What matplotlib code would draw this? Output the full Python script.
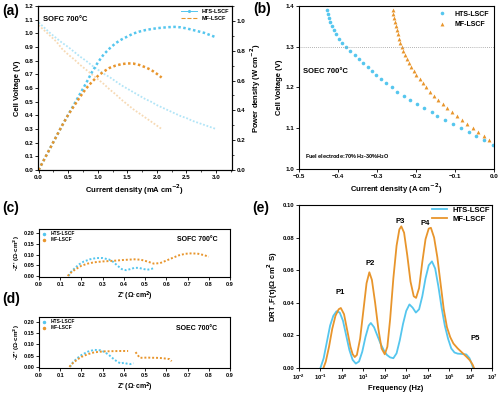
import numpy as np
import matplotlib
matplotlib.use("Agg")
import matplotlib.pyplot as plt
from matplotlib.lines import Line2D
from matplotlib.ticker import MultipleLocator, LogLocator, NullFormatter

plt.rcParams['font.family'] = ['Liberation Sans', 'DejaVu Sans']
plt.rcParams['font.weight'] = 'bold'
plt.rcParams['axes.labelweight'] = 'bold'
plt.rcParams['axes.linewidth'] = 0.8
plt.rcParams['mathtext.default'] = 'bf'

CYAN = '#55c6ee'
ORANGE = '#e8952c'

# ---- (a) SOFC I-V-P ----
hts_i = [0.0, 0.1, 0.2, 0.3, 0.4, 0.5, 0.6, 0.7, 0.8, 0.9, 1.0, 1.1, 1.2, 1.3, 1.4, 1.5,
         1.6, 1.7, 1.8, 1.9, 2.0, 2.1, 2.2, 2.3, 2.4, 2.5, 2.6, 2.7, 2.8, 2.9, 3.0]
hts_v = [1.08, 1.04, 1.00, 0.965, 0.93, 0.90, 0.865, 0.83, 0.80, 0.765, 0.735, 0.705, 0.68,
         0.65, 0.62, 0.595, 0.57, 0.545, 0.52, 0.50, 0.475, 0.455, 0.435, 0.415, 0.395,
         0.38, 0.36, 0.345, 0.33, 0.315, 0.30]
hts_p = [0.0, 0.075, 0.15, 0.225, 0.30, 0.37, 0.44, 0.51, 0.58, 0.655, 0.72, 0.775, 0.815,
         0.85, 0.875, 0.895, 0.915, 0.928, 0.938, 0.945, 0.951, 0.955, 0.958, 0.96, 0.957,
         0.95, 0.94, 0.93, 0.92, 0.905, 0.89]
mf_i = [0.0, 0.1, 0.2, 0.3, 0.4, 0.5, 0.6, 0.7, 0.8, 0.9, 1.0, 1.1, 1.2, 1.3, 1.4, 1.5,
        1.6, 1.7, 1.8, 1.9, 2.0, 2.08]
mf_v = [1.06, 1.02, 0.98, 0.94, 0.885, 0.845, 0.81, 0.77, 0.735, 0.70, 0.665, 0.63, 0.59,
        0.555, 0.515, 0.48, 0.445, 0.415, 0.385, 0.355, 0.325, 0.30]
mf_p = [0.0, 0.075, 0.15, 0.225, 0.30, 0.37, 0.43, 0.49, 0.545, 0.59, 0.63, 0.66, 0.685,
        0.70, 0.71, 0.715, 0.714, 0.705, 0.69, 0.672, 0.645, 0.62]

# ---- (b) SOEC I-V ----
hts_ec_v = [1.06, 1.07, 1.08, 1.09, 1.10, 1.11, 1.12, 1.13, 1.14, 1.15, 1.16, 1.17, 1.18,
            1.19, 1.20, 1.21, 1.22, 1.23, 1.24, 1.25, 1.26, 1.27, 1.28, 1.29, 1.30, 1.31,
            1.32, 1.33, 1.34, 1.35, 1.36, 1.37, 1.38, 1.39]
hts_ec_i = [-0.003, -0.026, -0.045, -0.065, -0.085, -0.105, -0.125, -0.145, -0.16, -0.18,
            -0.198, -0.215, -0.232, -0.248, -0.262, -0.276, -0.29, -0.302, -0.313, -0.324,
            -0.335, -0.345, -0.357, -0.368, -0.38, -0.39, -0.398, -0.405, -0.411, -0.416,
            -0.42, -0.423, -0.426, -0.429]
mf_ec_v = [1.07, 1.08, 1.09, 1.10, 1.11, 1.12, 1.13, 1.14, 1.15, 1.16, 1.17, 1.18, 1.19,
           1.20, 1.21, 1.22, 1.23, 1.24, 1.25, 1.26, 1.27, 1.28, 1.29, 1.30, 1.31, 1.32,
           1.33, 1.34, 1.35, 1.36, 1.37, 1.38, 1.39]
mf_ec_i = [-0.012, -0.025, -0.04, -0.055, -0.07, -0.083, -0.096, -0.108, -0.12, -0.132,
           -0.143, -0.154, -0.164, -0.174, -0.183, -0.191, -0.199, -0.206, -0.213, -0.219,
           -0.224, -0.229, -0.233, -0.237, -0.241, -0.244, -0.247, -0.25, -0.252, -0.254,
           -0.256, -0.258, -0.26]

# ---- (c) EIS SOFC ----
hts_c_re = [0.14, 0.15, 0.17, 0.19, 0.21, 0.24, 0.27, 0.30, 0.33, 0.35, 0.37, 0.39, 0.41,
            0.43, 0.45, 0.47, 0.49, 0.51, 0.53, 0.54]
hts_c_im = [0.0, 0.018, 0.038, 0.055, 0.067, 0.078, 0.084, 0.084, 0.077, 0.066, 0.048, 0.032,
            0.027, 0.032, 0.038, 0.038, 0.033, 0.029, 0.033, 0.037]
mf_c_re = [0.135, 0.15, 0.17, 0.20, 0.23, 0.26, 0.30, 0.35, 0.40, 0.45, 0.48, 0.51, 0.54,
           0.57, 0.60, 0.63, 0.66, 0.69, 0.72, 0.75, 0.78, 0.80]
mf_c_im = [0.0, 0.015, 0.03, 0.048, 0.058, 0.064, 0.068, 0.071, 0.075, 0.078, 0.076, 0.068,
           0.058, 0.060, 0.072, 0.085, 0.097, 0.104, 0.106, 0.104, 0.097, 0.09]

# ---- (d) EIS SOEC ----
hts_d_re = [0.146, 0.16, 0.18, 0.20, 0.23, 0.26, 0.29, 0.31, 0.33, 0.35, 0.37, 0.385, 0.40,
            0.415, 0.43, 0.445]
hts_d_im = [0.0, 0.02, 0.038, 0.052, 0.067, 0.075, 0.073, 0.065, 0.052, 0.036, 0.022, 0.015,
            0.018, 0.014, 0.012, 0.016]
mf_d_re1 = [0.143, 0.16, 0.18, 0.20, 0.23, 0.26, 0.30, 0.34, 0.38, 0.42]
mf_d_im1 = [0.0, 0.017, 0.032, 0.044, 0.056, 0.064, 0.068, 0.069, 0.07, 0.07]
mf_d_re2 = [0.455, 0.465, 0.475, 0.49, 0.51, 0.53, 0.55, 0.57, 0.585, 0.60, 0.615, 0.625]
mf_d_im2 = [0.065, 0.052, 0.04, 0.04, 0.041, 0.04, 0.04, 0.039, 0.038, 0.036, 0.034, 0.025]

# ---- (e) DRT (log10 of frequency) ----
hts_logf = [-1.0, -0.85, -0.7, -0.55, -0.4, -0.25, -0.1, 0.05, 0.2, 0.35, 0.5, 0.65, 0.8,
            0.95, 1.1, 1.25, 1.35, 1.5, 1.65, 1.8, 1.95, 2.1, 2.25, 2.4, 2.55, 2.7, 2.85,
            3.0, 3.15, 3.3, 3.45, 3.6, 3.75, 3.9, 4.05, 4.2, 4.35, 4.5, 4.65, 4.8, 4.95,
            5.1, 5.25, 5.4, 5.6, 5.8, 5.95, 6.05, 6.12]
hts_drt = [0.0, 0.006, 0.016, 0.026, 0.032, 0.0348, 0.034, 0.029, 0.020, 0.011, 0.005,
           0.0027, 0.004, 0.010, 0.019, 0.026, 0.0276, 0.025, 0.020, 0.015, 0.011, 0.008,
           0.0065, 0.006, 0.009, 0.017, 0.027, 0.035, 0.039, 0.037, 0.034, 0.036, 0.044,
           0.055, 0.063, 0.0654, 0.061, 0.050, 0.037, 0.026, 0.018, 0.012, 0.0095, 0.0088,
           0.0086, 0.0083, 0.006, 0.0027, 0.0]
mf_logf = [-0.86, -0.75, -0.6, -0.45, -0.3, -0.15, -0.05, 0.1, 0.25, 0.4, 0.5, 0.6, 0.7,
           0.85, 1.0, 1.15, 1.28, 1.4, 1.55, 1.7, 1.85, 2.0, 2.12, 2.25, 2.4, 2.55, 2.68,
           2.77, 2.9, 3.05, 3.2, 3.35, 3.46, 3.6, 3.75, 3.9, 4.05, 4.15, 4.3, 4.45, 4.6,
           4.75, 4.9, 5.05, 5.2, 5.4, 5.6, 5.8, 5.97, 6.1, 6.16]
mf_drt = [0.0, 0.004, 0.013, 0.024, 0.032, 0.036, 0.0368, 0.033, 0.023, 0.013, 0.0085,
          0.0067, 0.008, 0.018, 0.035, 0.052, 0.0587, 0.054, 0.040, 0.024, 0.012, 0.0084,
          0.013, 0.030, 0.055, 0.075, 0.085, 0.0869, 0.083, 0.069, 0.053, 0.044, 0.043,
          0.049, 0.065, 0.079, 0.0855, 0.086, 0.080, 0.068, 0.052, 0.036, 0.025, 0.019,
          0.015, 0.012, 0.0095, 0.007, 0.0047, 0.002, 0.0]
peak_labels = ['P1', 'P2', 'P3', 'P4', 'P5']
peak_logf = [-0.1, 1.32, 2.7, 3.9, 6.2]
peak_y = [0.046, 0.064, 0.09, 0.0885, 0.018]

fig = plt.figure(figsize=(5, 3.95), dpi=100)

def style(ax, fs=4.5):
    ax.tick_params(labelsize=fs, length=2, width=0.6, pad=1.5)
    ax.tick_params(which='minor', length=1.2, width=0.5)
    for lab in ax.get_xticklabels() + ax.get_yticklabels():
        lab.set_fontweight('bold')

dots = (0, (1, 1))

# (a)
ax1 = fig.add_axes([0.076, 0.5696, 0.388, 0.4152])
ax1.plot(hts_i, hts_v, color=CYAN, ls=dots, lw=1.3, alpha=0.45)
ax1.plot(mf_i, mf_v, color=ORANGE, ls=dots, lw=1.3, alpha=0.35)
ax1.set_xlim(-0.01, 3.27)
ax1.set_ylim(0, 1.2)
ax1.xaxis.set_major_locator(MultipleLocator(0.5))
ax1.yaxis.set_major_locator(MultipleLocator(0.1))
ax1.xaxis.set_minor_locator(MultipleLocator(0.25))
ax1.set_xlabel('Current density (mA cm$^{-2}$)', fontsize=5.5, labelpad=2)
ax1.set_ylabel('Cell Voltage (V)', fontsize=5.5, labelpad=2)
style(ax1)
ax1r = ax1.twinx()
ax1r.plot(hts_i, hts_p, color=CYAN, ls=dots, lw=1.8)
ax1r.plot(mf_i, mf_p, color=ORANGE, ls=dots, lw=1.8)
ax1r.set_ylim(0, 1.1)
ax1r.yaxis.set_major_locator(MultipleLocator(0.2))
ax1r.yaxis.set_minor_locator(MultipleLocator(0.1))
ax1r.set_ylabel('Power density (W cm$^{-2}$)', fontsize=5.5, labelpad=2)
style(ax1r)
ax1.text(0.08, 1.1, 'SOFC 700°C', fontsize=5.5, fontweight='bold', va='center')
h_a = [Line2D([], [], color=CYAN, ls='-', marker='.', markersize=2.5, lw=0.7),
       Line2D([], [], color=ORANGE, ls='--', lw=0.8)]
ax1r.legend(h_a, ['HTS-LSCF', 'MF-LSCF'], loc='upper right', frameon=False,
            prop={'size': 4, 'weight': 'bold'}, handlelength=3, borderpad=0.2,
            labelspacing=0.4, borderaxespad=0.3)

# (b)
ax2 = fig.add_axes([0.598, 0.5722, 0.39, 0.4127])
ax2.plot(hts_ec_i, hts_ec_v, 'o', color=CYAN, markersize=2.6, mec='none', label='HTS-LSCF')
ax2.plot(mf_ec_i, mf_ec_v, '^', color=ORANGE, markersize=2.8, mec='none', label='MF-LSCF')
ax2.axhline(1.3, color='#999999', ls=(0, (1, 1.5)), lw=0.6)
ax2.set_xlim(-0.5, 0.0)
ax2.set_ylim(1.0, 1.4)
ax2.xaxis.set_major_locator(MultipleLocator(0.1))
ax2.yaxis.set_major_locator(MultipleLocator(0.1))
ax2.set_xlabel('Current density (A cm$^{-2}$)', fontsize=5.5, labelpad=2)
ax2.set_ylabel('Cell Voltage (V)', fontsize=5.5, labelpad=2)
style(ax2)
ax2.text(-0.49, 1.24, 'SOEC 700°C', fontsize=5.5, fontweight='bold', va='center')
ax2.text(-0.485, 1.03, 'Fuel electrode:70% H$_2$-30%H$_2$O', fontsize=4, va='center')
ax2.legend(loc='upper right', frameon=False, prop={'size': 5, 'weight': 'bold'},
           handletextpad=0.8, borderaxespad=0.3, labelspacing=0.5)

# (c)
ax3 = fig.add_axes([0.078, 0.2987, 0.382, 0.1215])
ax3.plot(hts_c_re, hts_c_im, color=CYAN, ls=dots, lw=1.4)
ax3.plot(mf_c_re, mf_c_im, color=ORANGE, ls=dots, lw=1.4)
ax3.set_xlim(0, 0.9)
ax3.set_ylim(-0.005, 0.22)
ax3.xaxis.set_major_locator(MultipleLocator(0.1))
ax3.yaxis.set_major_locator(MultipleLocator(0.05))
ax3.set_xlabel("Z' (Ω·cm$^2$)", fontsize=5, labelpad=2)
ax3.set_ylabel("-Z'' (Ω·cm$^2$)", fontsize=4.5, labelpad=1)
style(ax3, 4)
ax3.text(0.84, 0.17, 'SOFC 700°C', fontsize=5, fontweight='bold', ha='right', va='center')
h_c = [Line2D([], [], color=CYAN, ls='', marker='.', markersize=3),
       Line2D([], [], color=ORANGE, ls='', marker='.', markersize=3)]
ax3.legend(h_c, ['HTS-LSCF', 'MF-LSCF'], loc='upper left', frameon=False,
           prop={'size': 3.5, 'weight': 'bold'}, handlelength=1, borderpad=0.2,
           labelspacing=0.2, borderaxespad=0.3)

# (d)
ax4 = fig.add_axes([0.078, 0.0684, 0.382, 0.1291])
ax4.plot(hts_d_re, hts_d_im, color=CYAN, ls=dots, lw=1.4)
ax4.plot(mf_d_re1, mf_d_im1, color=ORANGE, ls=dots, lw=1.4)
ax4.plot(mf_d_re2, mf_d_im2, color=ORANGE, ls=dots, lw=1.4)
ax4.set_xlim(0, 0.9)
ax4.set_ylim(-0.005, 0.22)
ax4.xaxis.set_major_locator(MultipleLocator(0.1))
ax4.yaxis.set_major_locator(MultipleLocator(0.05))
ax4.set_xlabel("Z' (Ω·cm$^2$)", fontsize=5, labelpad=2)
ax4.set_ylabel("-Z'' (Ω·cm$^2$)", fontsize=4.5, labelpad=1)
style(ax4, 4)
ax4.text(0.84, 0.17, 'SOEC 700°C', fontsize=5, fontweight='bold', ha='right', va='center')
ax4.legend(h_c, ['HTS-LSCF', 'MF-LSCF'], loc='upper left', frameon=False,
           prop={'size': 3.5, 'weight': 'bold'}, handlelength=1, borderpad=0.2,
           labelspacing=0.2, borderaxespad=0.3)

# (e)
ax5 = fig.add_axes([0.598, 0.0684, 0.386, 0.4127])
ax5.plot(10 ** np.array(hts_logf), hts_drt, color=CYAN, lw=1.3, label='HTS-LSCF')
ax5.plot(10 ** np.array(mf_logf), mf_drt, color=ORANGE, lw=1.3, label='MF-LSCF')
ax5.set_xscale('log')
ax5.set_xlim(1e-2, 1e7)
ax5.set_ylim(0, 0.10)
ax5.xaxis.set_major_locator(LogLocator(base=10, numticks=12))
ax5.xaxis.set_minor_formatter(NullFormatter())
ax5.minorticks_off()
ax5.yaxis.set_major_locator(MultipleLocator(0.02))
ax5.set_xlabel('Frequency (Hz)', fontsize=5.5, labelpad=2)
ax5.set_ylabel('DRT ,F(τ)(Ω cm$^2$ S)', fontsize=5.5, labelpad=2)
style(ax5, 4.2)
for lab, lf, yy in zip(peak_labels, peak_logf, peak_y):
    ax5.text(10 ** lf, yy, lab, fontsize=5.5, fontweight='bold', ha='center', va='center')
ax5.legend(loc='upper right', frameon=False, prop={'size': 5.5, 'weight': 'bold'},
           handlelength=2, borderpad=0.1, labelspacing=0.2, borderaxespad=0.1)

for txt, x, y in [('(a)', 0.004, 0.99), ('(b)', 0.506, 0.995), ('(c)', 0.004, 0.49),
                  ('(d)', 0.004, 0.26), ('(e)', 0.504, 0.49)]:
    fig.text(x, y, txt, fontsize=10, fontweight='bold', va='top')

fig.savefig('out.png', dpi=100)
